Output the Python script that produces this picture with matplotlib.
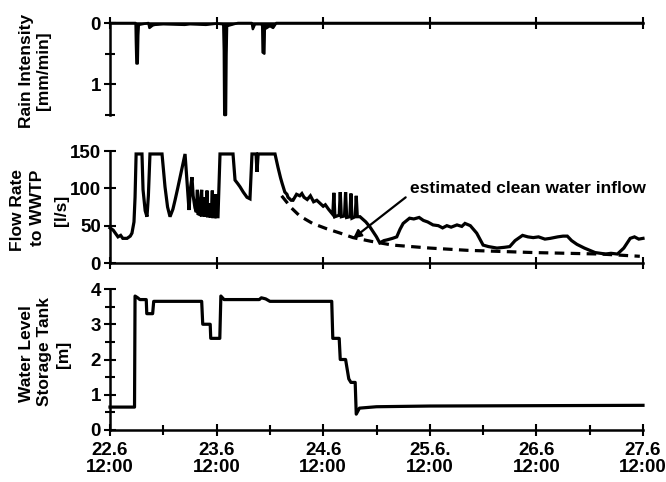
import matplotlib
matplotlib.use("Agg")
import matplotlib.pyplot as plt
from matplotlib.ticker import MultipleLocator, FixedLocator

# ---- data (time in days since 22.6 12:00) ----
rain_t = [0, 0.24, 0.243, 0.248, 0.26, 0.265, 0.27, 0.30, 0.36, 0.37, 0.40, 0.42, 0.5, 0.7, 0.75,
          0.9, 1.0, 1.06, 1.063, 1.068, 1.072, 1.088, 1.093, 1.098, 1.2, 1.33, 1.34, 1.36, 1.42,
          1.428, 1.432, 1.448, 1.452, 1.5, 1.53, 1.56, 5.0]
rain_v = [0, 0, 0.3, 0.66, 0.66, 0.2, 0.03, 0.02, 0, 0.08, 0.04, 0.03, 0.02, 0.03, 0.02,
          0.03, 0.01, 0.02, 0.05, 0.45, 1.5, 1.5, 0.5, 0.05, 0.0, 0, 0.1, 0.02, 0.02,
          0.05, 0.48, 0.5, 0.1, 0.05, 0.08, 0, 0]

flow_t = [0.00, 0.03, 0.06, 0.075, 0.10, 0.12, 0.16, 0.19, 0.206, 0.225, 0.235, 0.245, 0.30, 0.31,
          0.33, 0.347, 0.36, 0.375, 0.488, 0.516, 0.54, 0.563, 0.59, 0.61, 0.635, 0.657, 0.68, 0.704,
          0.715, 0.722, 0.741, 0.755, 0.769, 0.78, 0.797, 0.81, 0.82, 0.825, 0.84, 0.85, 0.86, 0.865,
          0.88, 0.885, 0.89, 0.90, 0.91, 0.915, 0.93, 0.935, 0.94, 0.95, 0.96, 0.965, 0.985, 0.99,
          0.995, 1.013, 1.032, 1.154, 1.173, 1.20, 1.22, 1.25, 1.27, 1.285,
          1.313, 1.332, 1.37, 1.379, 1.39, 1.548, 1.576, 1.60, 1.614, 1.64, 1.66, 1.67, 1.70, 1.717,
          1.75, 1.78, 1.80, 1.82, 1.85, 1.88, 1.91, 1.94, 1.97, 2.00, 2.02, 2.05, 2.09, 2.10, 2.11,
          2.15, 2.16, 2.17, 2.20, 2.21, 2.22, 2.25, 2.26, 2.27, 2.30, 2.31, 2.32, 2.345, 2.40, 2.44,
          2.50, 2.53, 2.57, 2.60, 2.65, 2.69, 2.72, 2.75, 2.81, 2.85, 2.90, 2.94, 2.98, 3.03, 3.08,
          3.12, 3.16, 3.20, 3.255, 3.30, 3.33, 3.38, 3.44, 3.50, 3.55, 3.63, 3.70, 3.75, 3.80, 3.87,
          3.92, 3.97, 4.02, 4.08, 4.13, 4.20, 4.25, 4.29, 4.33, 4.38, 4.45, 4.50, 4.55, 4.60, 4.65,
          4.70, 4.76, 4.82, 4.88, 4.92, 4.96, 5.0]
flow_q = [47, 44, 38, 35, 37, 33, 33, 36, 40, 55, 88, 146, 146, 98,
          70, 62, 90, 146, 146, 102, 75, 62, 72, 84, 100, 115, 130, 146,
          125, 110, 71, 100, 115, 90, 74, 68, 98, 66, 65, 85, 98, 64,
          64, 88, 64, 64, 97, 63, 63, 80, 63, 63, 97, 62, 62, 92,
          62, 62, 146, 146, 111, 106, 102, 95, 91, 88,
          86, 146, 146, 122, 146, 146, 128, 114, 107, 95, 92, 88, 84, 84,
          92, 90, 93, 88, 85, 90, 82, 84, 80, 76, 78, 72, 65, 94, 62,
          64, 95, 62, 63, 95, 61, 62, 93, 60, 62, 90, 62, 62, 55, 48,
          35, 27, 30, 31, 33, 35, 45, 53, 60, 59, 61, 57, 55, 51, 50,
          47, 50, 48, 51, 49, 53, 50, 40, 24, 22, 20, 21, 22, 30, 37,
          35, 34, 35, 32, 33, 35, 36, 36, 30, 25, 20, 17, 14, 13, 12,
          13, 12, 20, 33, 35, 32, 33]

clean_t = [1.61, 1.70, 1.78, 1.90, 2.03, 2.16, 2.28, 2.45, 2.65, 3.0, 3.35, 3.97, 4.6, 4.97]
clean_q = [90, 74, 63, 53, 46, 40, 34, 29, 24, 20, 17, 14, 12, 9]

level_t = [0, 0.23, 0.235, 0.26, 0.28, 0.34, 0.345, 0.40, 0.41, 0.86, 0.87, 0.94, 0.945, 1.03,
           1.04, 1.07, 1.40, 1.42, 1.46, 1.50, 2.08, 2.09, 2.15, 2.16, 2.21, 2.24, 2.26, 2.30,
           2.31, 2.34, 2.50, 3.0, 5.0]
level_h = [0.65, 0.65, 3.8, 3.75, 3.7, 3.7, 3.3, 3.3, 3.65, 3.65, 3.0, 3.0, 2.6, 2.6,
           3.8, 3.7, 3.7, 3.75, 3.72, 3.65, 3.65, 2.6, 2.6, 2.0, 2.0, 1.45, 1.35, 1.35,
           0.45, 0.62, 0.66, 0.68, 0.7]

xtick_pos = [0, 1, 2, 3, 4, 5]
xtick_labels = ["22.6\n12:00", "23.6\n12:00", "24.6\n12:00", "25.6.\n12:00", "26.6\n12:00", "27.6\n12:00"]

FONT = "Liberation Sans"
plt.rcParams["font.family"] = [FONT, "DejaVu Sans"]
plt.rcParams["font.weight"] = "bold"

W, H = 666, 482
fig = plt.figure(figsize=(W / 100, H / 100), dpi=100)

def px_axes(x0, x1, ytop, ybot):
    return fig.add_axes([x0 / W, 1 - ybot / H, (x1 - x0) / W, (ybot - ytop) / H])

LW = 2.3
SPW = 1.8

def style(ax):
    for s in ax.spines.values():
        s.set_linewidth(SPW)
    ax.tick_params(which="both", direction="inout", width=1.5, labelsize=13.5)
    ax.tick_params(which="major", length=9)
    ax.tick_params(which="minor", length=7)
    for lab in ax.get_yticklabels() + ax.get_xticklabels():
        lab.set_fontweight("bold")

# ---- top: rain ----
ax1 = px_axes(110, 643, 23, 115)
ax1.fill_between(rain_t, 0, rain_v, color="black", lw=0)
ax1.plot(rain_t, rain_v, color="black", lw=1.8)
ax1.set_xlim(0, 5)
ax1.set_ylim(1.5, 0)
ax1.spines["right"].set_visible(False)
ax1.spines["bottom"].set_visible(False)
ax1.xaxis.tick_top()
ax1.set_xticks(xtick_pos)
ax1.set_xticklabels([])
ax1.set_yticks([0, 1])
ax1.set_yticklabels(["0", "1"])
ax1.yaxis.set_minor_locator(FixedLocator([0.5, 1.5]))
style(ax1)
ax1.tick_params(axis="y", pad=2)

# ---- middle: flow ----
ax2 = px_axes(110, 643, 151, 263)
ax2.plot(flow_t, flow_q, color="black", lw=LW, solid_joinstyle="miter")
ax2.plot(clean_t, clean_q, color="black", lw=LW, ls=(0, (3, 2)))
ax2.set_xlim(0, 5)
ax2.set_ylim(0, 150)
ax2.spines["right"].set_visible(False)
ax2.spines["top"].set_visible(False)
ax2.set_xticks(xtick_pos)
ax2.set_xticklabels([])
ax2.set_yticks([0, 50, 100, 150])
style(ax2)
ax2.tick_params(axis="y", pad=2)
ax2.annotate("estimated clean water inflow", xy=(2.28, 33), xytext=(2.81, 100),
             fontsize=12.5, fontweight="bold", ha="left", va="center",
             arrowprops=dict(arrowstyle="-|>", lw=1.6, color="black", mutation_scale=12,
                             shrinkA=1, shrinkB=0, relpos=(0.0, 0.1)))

# ---- bottom: water level ----
ax3 = px_axes(110, 643, 289, 430)
ax3.plot(level_t, level_h, color="black", lw=LW)
ax3.set_xlim(0, 5)
ax3.set_ylim(0, 4)
ax3.spines["right"].set_visible(False)
ax3.spines["top"].set_visible(False)
ax3.set_xticks(xtick_pos)
ax3.set_xticklabels(xtick_labels, linespacing=1.05)
ax3.xaxis.set_minor_locator(MultipleLocator(0.5))
ax3.set_yticks([0, 1, 2, 3, 4])
ax3.yaxis.set_minor_locator(MultipleLocator(0.5))
style(ax3)
ax3.tick_params(axis="y", pad=2)
ax3.tick_params(axis="x", pad=4)

for a in (ax1, ax2, ax3):
    for ln in a.lines:
        ln.set_clip_on(False)

# ---- y labels (as rotated figure text) ----
def ylab(text, xpx, ypx, size=12.5):
    fig.text(xpx / W, 1 - ypx / H, text, rotation=90, ha="center", va="center",
             fontsize=size, fontweight="bold")

ylab("Rain Intensity", 27, 71)
ylab("[mm/min]", 43, 71)
ylab("Flow Rate", 18, 210)
ylab("to WWTP", 38, 208)
ylab("[l/s]", 61, 210)
ylab("Water Level", 27, 354)
ylab("Storage Tank", 44, 352)
ylab("[m]", 63, 354)

fig.savefig("out.png", dpi=100)
